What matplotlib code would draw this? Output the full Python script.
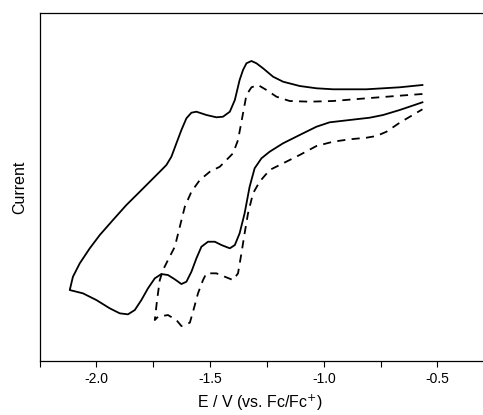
import matplotlib
matplotlib.use("Agg")
import matplotlib.pyplot as plt
from matplotlib.ticker import MultipleLocator, NullLocator

plt.rcParams['font.family'] = ['Liberation Sans', 'DejaVu Sans']

# solid CV: upper branch (right -> vertex), then lower branch (vertex -> right)
E_solid = [-0.566, -0.666, -0.812, -0.959, -1.032, -1.106, -1.179, -1.223, -1.267,
           -1.296, -1.318, -1.340, -1.355, -1.370, -1.391, -1.413, -1.443, -1.472,
           -1.516, -1.560, -1.582, -1.604, -1.626, -1.648, -1.670, -1.692, -1.721,
           -1.765, -1.809, -1.868, -1.927, -1.985, -2.029, -2.073, -2.103, -2.117,
           -2.059, -2.000, -1.941, -1.897, -1.861, -1.831, -1.802, -1.773, -1.743,
           -1.714, -1.685, -1.655, -1.626, -1.604, -1.582, -1.560, -1.538, -1.509,
           -1.479, -1.450, -1.413, -1.391, -1.370, -1.348, -1.326, -1.304, -1.274,
           -1.238, -1.179, -1.106, -1.032, -0.974, -0.886, -0.798, -0.739, -0.666,
           -0.566]
I_solid = [276.0, 273.7, 271.7, 271.7, 272.7, 275.0, 279.3, 284.3, 292.7,
           297.7, 300.0, 297.7, 291.0, 281.0, 261.0, 249.3, 244.3, 243.7,
           246.0, 249.3, 248.3, 242.7, 231.0, 217.7, 204.3, 196.0, 189.3,
           179.3, 169.3, 156.0, 141.0, 126.0, 112.7, 97.7, 84.3, 71.0,
           67.7, 61.0, 52.7, 47.7, 46.7, 51.0, 61.0, 72.7, 82.7,
           87.0, 86.0, 81.7, 77.0, 79.3, 89.3, 102.7, 114.3, 119.3,
           119.3, 116.0, 112.7, 116.0, 127.7, 147.7, 174.3, 192.7, 202.7,
           209.3, 217.7, 226.0, 234.3, 238.7, 241.0, 243.3, 246.0, 251.0,
           258.7]

# dashed CV
E_dash = [-0.566, -0.666, -0.812, -0.959, -1.062, -1.150, -1.208, -1.252, -1.289,
          -1.318, -1.340, -1.355, -1.377, -1.399, -1.428, -1.457, -1.501, -1.545,
          -1.582, -1.611, -1.633, -1.655, -1.685, -1.707, -1.721, -1.733, -1.743,
          -1.729, -1.685, -1.648, -1.626, -1.589, -1.575, -1.553, -1.531, -1.516,
          -1.472, -1.435, -1.399, -1.377, -1.362, -1.348, -1.333, -1.311, -1.282,
          -1.238, -1.179, -1.106, -1.032, -0.959, -0.886, -0.812, -0.768, -0.724,
          -0.666, -0.566]
I_dash = [267.0, 265.3, 262.7, 260.0, 259.3, 260.0, 264.3, 271.0, 276.0,
          273.7, 266.0, 247.7, 221.0, 207.7, 201.0, 194.3, 189.3, 181.0,
          169.3, 154.3, 134.3, 114.3, 101.0, 91.0, 81.0, 61.0, 41.0,
          44.3, 46.0, 41.0, 35.0, 38.3, 49.3, 67.7, 81.0, 87.7,
          87.7, 84.3, 81.0, 87.7, 107.7, 127.7, 147.7, 167.7, 179.3,
          191.0, 197.7, 206.0, 215.0, 219.3, 221.7, 223.3, 225.0, 229.3,
          238.3, 251.7]

xticks = [-2.0, -1.5, -1.0, -0.5]
xticklabels = ['-2.0', '-1.5', '-1.0', '-0.5']

fig = plt.figure(figsize=(4.83, 4.15), dpi=100)
# the right edge of the original frame lies just outside the picture
ax = fig.add_axes([0.0818, 0.130, 0.9416, 0.838])

ax.plot(E_solid, I_solid, color='black', lw=1.3, solid_joinstyle='round')
ax.plot(E_dash, I_dash, color='black', lw=1.3, linestyle=(0, (4.5, 3.5)))

ax.set_xlim(-2.25, -0.25)
ax.set_ylim(0, 347.7)

ax.set_xticks(xticks)
ax.set_xticklabels(xticklabels)
ax.xaxis.set_minor_locator(MultipleLocator(0.25))
ax.yaxis.set_major_locator(NullLocator())
ax.tick_params(axis='x', which='both', direction='out', length=4, width=0.8,
               labelsize=10, pad=4)

for s in ax.spines.values():
    s.set_linewidth(0.9)

ax.set_xlabel('E / V (vs. Fc/Fc$^{+}$)', fontsize=11.5, va='center')
ax.set_ylabel('Current', fontsize=11.5, va='center')
ax.xaxis.set_label_coords(0.484, -0.121)
ax.yaxis.set_label_coords(-0.043, 0.5)

fig.savefig('out.png', dpi=100)
